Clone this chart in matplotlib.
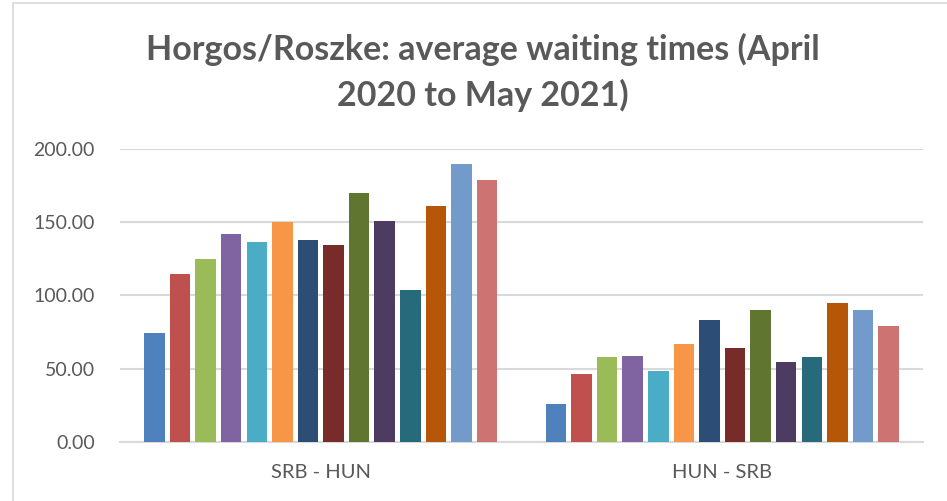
import matplotlib
matplotlib.use("Agg")
from matplotlib import pyplot as plt
from matplotlib.patches import Rectangle
import numpy as np

# one series per month, April 2020 to May 2021
months = ["Apr 2020", "May 2020", "Jun 2020", "Jul 2020", "Aug 2020", "Sep 2020", "Oct 2020",
          "Nov 2020", "Dec 2020", "Jan 2021", "Feb 2021", "Mar 2021", "Apr 2021", "May 2021"]
categories = ["SRB - HUN", "HUN - SRB"]
srb_hun = [74.1, 114.8, 124.8, 142.0, 136.4, 150.0, 137.7, 134.1, 169.5, 150.7, 103.9, 160.9, 189.3, 178.4]
hun_srb = [25.7, 46.1, 57.9, 58.4, 48.6, 66.6, 83.2, 64.1, 90.0, 54.3, 57.7, 94.5, 90.0, 79.3]
y_ticks = [0, 50, 100, 150, 200]
title_lines = ["Horgos/Roszke: average waiting times (April", "2020 to May 2021)"]

colors = ["#4F81BD", "#C0504D", "#9BBB59", "#8064A2", "#4BACC6", "#F79646", "#2C4D75",
          "#772C2A", "#5F7530", "#4D3B62", "#276A7C", "#B65708", "#729ACA", "#CD7371"]

text_color = "#595959"
grid_color = "#D9D9D9"
font = ["Lato", "DejaVu Sans"]

fig = plt.figure(figsize=(9.47, 5.01), dpi=100)
fig.patches.append(Rectangle((13 / 947, -0.1), 1.2, 1.1 - 3 / 501, transform=fig.transFigure,
                             fill=False, edgecolor=grid_color, linewidth=1.2))

ax = fig.add_axes([120 / 947, 1 - 442 / 501, 803 / 947, (442 - 148.7) / 501])

ind = np.arange(len(categories))
slot = 0.0637
width = 0.051
for i, m in enumerate(months):
    y = [srb_hun[i], hun_srb[i]]
    x = ind + (i - (len(months) - 1) / 2) * slot
    ax.bar(x, y, width, color=colors[i], label=m, zorder=3)

ax.set_xlim(-0.5, 1.5)
ax.set_ylim(0, 200)
ax.set_yticks(y_ticks)
ax.set_yticklabels([f"{v:.2f}" for v in y_ticks], family=font, fontsize=14, color=text_color)
ax.set_xticks(ind)
ax.set_xticklabels(categories, family=font, fontsize=14.5, color=text_color)
ax.tick_params(axis="both", length=0)
ax.tick_params(axis="y", pad=18)
ax.tick_params(axis="x", pad=16)
ax.grid(axis="y", color=grid_color, linewidth=1.5, zorder=0)
for side in ["top", "right", "left"]:
    ax.spines[side].set_visible(False)
ax.spines["bottom"].set_color(grid_color)
ax.spines["bottom"].set_linewidth(1.5)

for line, base in zip(title_lines, [60, 106]):
    fig.text(483 / 947, 1 - base / 501, line, ha="center", va="baseline", family=font,
             fontweight="bold", fontsize=24.5, color=text_color)

fig.savefig("out.png", dpi=100)
